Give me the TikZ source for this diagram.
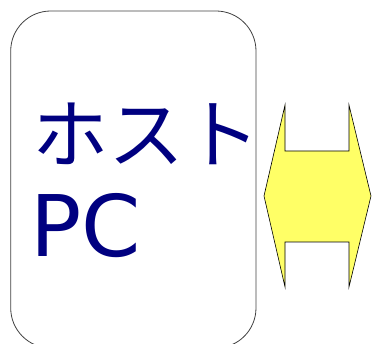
\documentclass[tikz,border=0pt]{standalone}
\usepackage{fontspec}
\newfontfamily\jpfont{Noto Sans CJK JP}
\newfontfamily\latfont{DejaVu Sans}
\definecolor{navy}{HTML}{000080}
\definecolor{ylw}{HTML}{FFFF66}
\begin{document}
\begin{tikzpicture}[x=1pt,y=-1pt,
  hostbox/.style={draw=black!75,line width=0.8pt,rounded corners=40pt},
  lbl/.style={anchor=base west,inner sep=0pt,text=navy},
  link/.style={draw=black,line width=0.6pt,fill=ylw}]
\useasboundingbox (0,0) rectangle (373,344);
\clip (0,0) rectangle (373,344);
\draw[hostbox] (10.7,11) coordinate (hnw) rectangle (256,348) coordinate (hse);
\node[lbl,font=\jpfont\fontsize{76}{90}\selectfont] (t1) at (32,163) {ホスト};
\node[lbl,font=\latfont\fontsize{85}{100}\selectfont] (t2) at (30,257) {PC};
\draw[link] (285,105) -- (285,151) -- (349,151) -- (349,105) -- (371,196)
  -- (349,287) -- (349,242) -- (285,242) -- (285,287) -- (264,196) -- cycle;
\end{tikzpicture}
\end{document}
